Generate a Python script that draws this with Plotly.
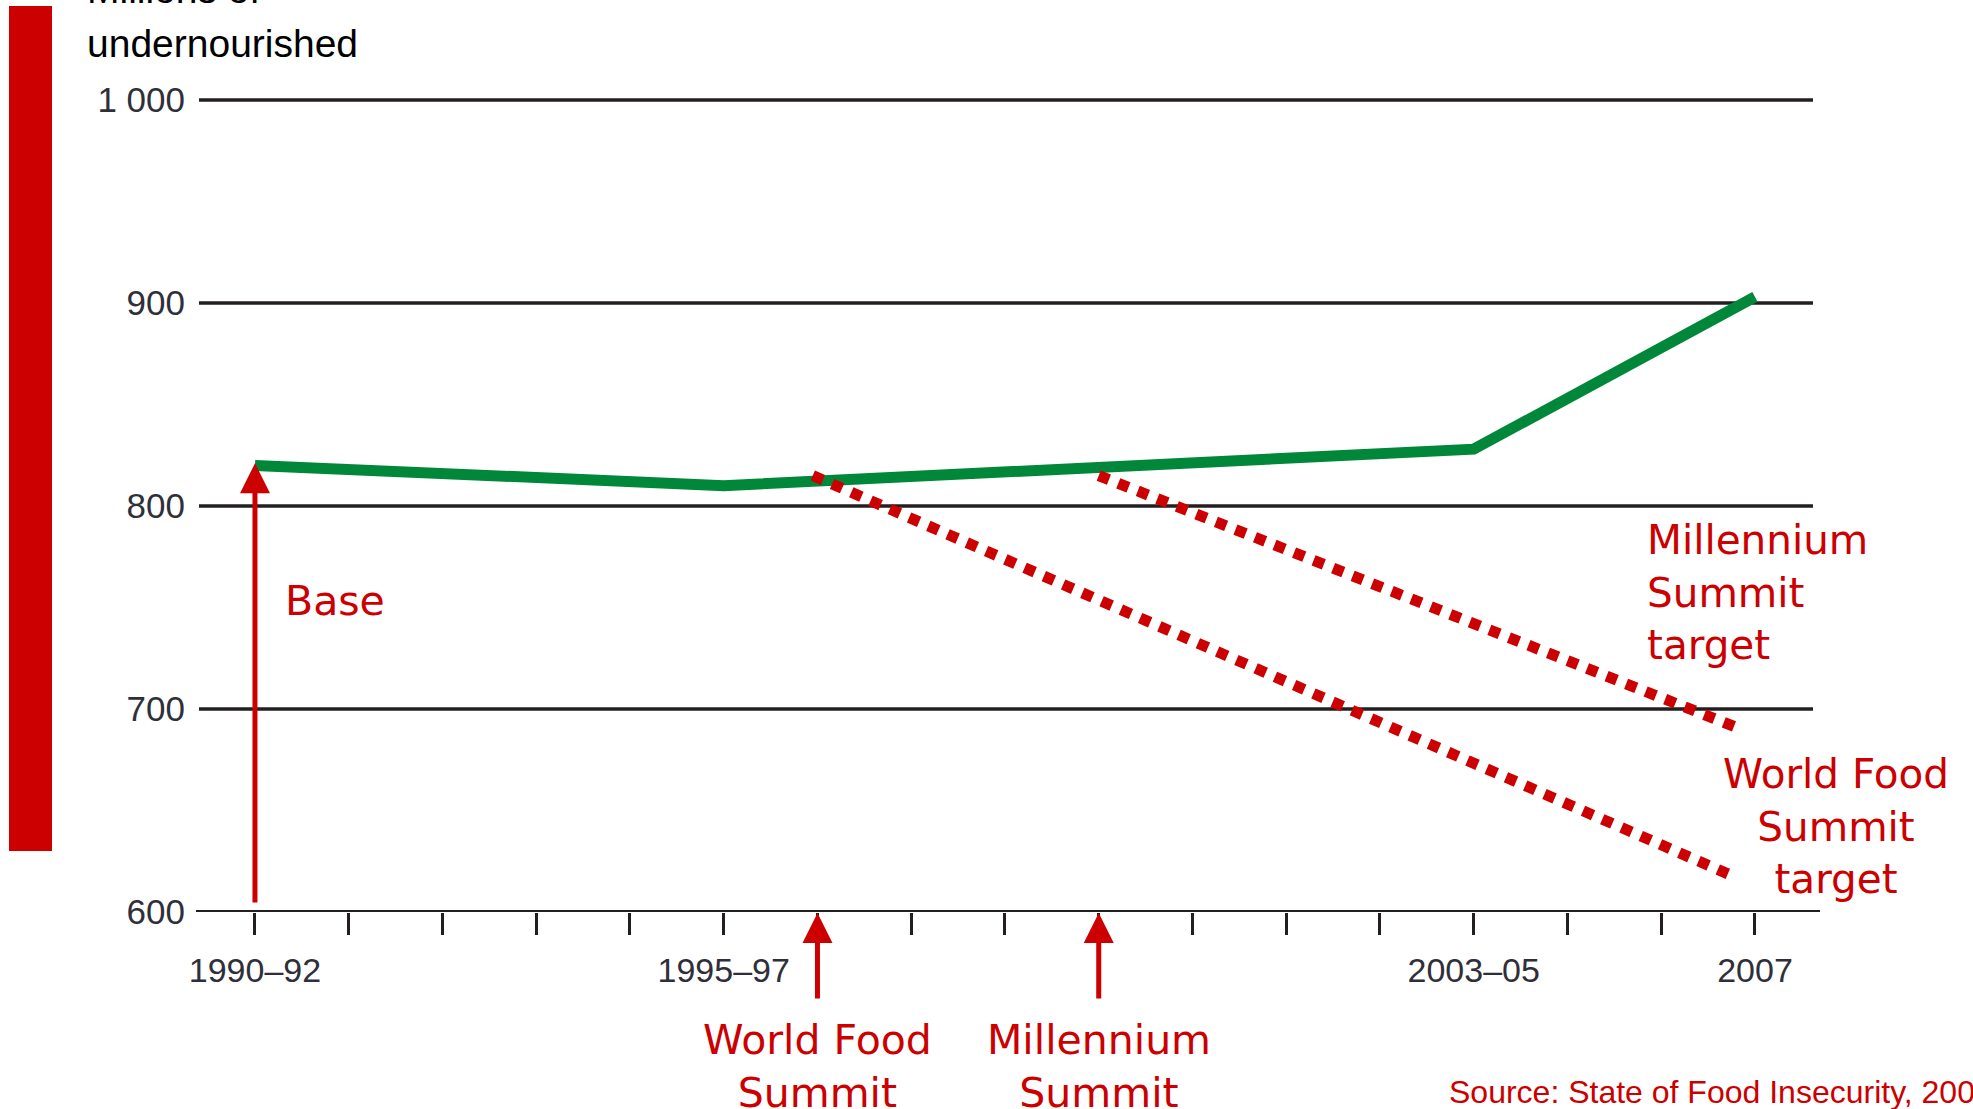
import plotly.graph_objects as go

W, H = 1973, 1109

# ---------------- data ----------------
period_x = [1991, 1996, 2004, 2007]
period_labels = ["1990–92", "1995–97", "2003–05", "2007"]
undernourished = [820, 810, 828, 903]

wfs_target_x = [1996.95, 2006.8]
wfs_target_y = [815, 617]
ms_target_x = [2000.0, 2006.8]
ms_target_y = [815, 691]

year_ticks = list(range(1991, 2008))
y_ticks = [700, 800, 900, 1000]
y_label_vals = [600, 700, 800, 900, 1000]
y_tick_labels = ["600", "700", "800", "900", "1 000"]

base_year, base_value, base_floor = 1991, 821, 604
wfs_year, ms_year = 1997, 2000

# ---------------- layout helpers ----------------
L, R, T, B = 199, 160, 90, 197
PW, PH = W - L - R, H - T - B
Y_TOP = 1000 + 10 / 2.03  # a little headroom so the top gridline is not on the edge


def px(xp):
    return (xp - L) / PW


def py(yp):
    return (H - B - yp) / PH


RED = "#cc0000"
GREEN = "#00873a"
INK = "#231f20"
TICKFONT = "Liberation Sans, Arial, sans-serif"
HUM = "DejaVu Sans, Verdana, sans-serif"
ARIAL = "Liberation Sans, Arial, sans-serif"

fig = go.Figure()

fig.add_trace(go.Scatter(x=period_x, y=undernourished, mode="lines",
                         line=dict(color=GREEN, width=11), hoverinfo="skip"))
fig.add_trace(go.Scatter(x=wfs_target_x, y=wfs_target_y, mode="lines",
                         line=dict(color=RED, width=11, dash="11px,10px"), hoverinfo="skip"))
fig.add_trace(go.Scatter(x=ms_target_x, y=ms_target_y, mode="lines",
                         line=dict(color=RED, width=11, dash="11px,10px"), hoverinfo="skip"))

tick_text = [period_labels[period_x.index(y)] if y in period_x else "" for y in year_ticks]

fig.update_layout(
    width=W, height=H,
    margin=dict(l=L, r=R, t=T, b=B, pad=0),
    paper_bgcolor="white", plot_bgcolor="white",
    showlegend=False,
    xaxis=dict(range=[1990.403, 2007.619], tickvals=year_ticks, ticktext=tick_text,
               ticks="outside", ticklen=22, tickwidth=3, tickcolor=INK,
               showgrid=False, showline=False, zeroline=False,
               tickfont=dict(family=TICKFONT, size=34, color="#2f2f3a"),
               ticklabelstandoff=6),
    yaxis=dict(range=[600, Y_TOP], tickvals=y_label_vals, ticktext=y_tick_labels,
               ticks="", showgrid=False,
               showline=False, zeroline=False,
               tickfont=dict(family=TICKFONT, size=35, color="#2f2f3a"),
               ticklabelstandoff=13),
)

shapes = [
    dict(type="rect", xref="paper", yref="paper", x0=px(9), x1=px(52), y0=py(851), y1=py(6),
         fillcolor=RED, line=dict(width=0), layer="above"),
    dict(type="line", xref="paper", yref="y", x0=px(196), x1=px(1820), y0=600, y1=600,
         line=dict(color=INK, width=4), layer="above"),
]
for v in y_ticks:
    shapes.append(dict(type="line", xref="paper", yref="y", x0=0, x1=1, y0=v, y1=v,
                       line=dict(color=INK, width=3.5), layer="below"))
fig.update_layout(shapes=shapes)

ann = []
arrow_style = dict(showarrow=True, arrowhead=2, arrowsize=1.2, arrowwidth=5,
                   arrowcolor=RED, text="")
ann.append(dict(x=base_year, y=base_value, xref="x", yref="y",
                ax=base_year, ay=base_floor, axref="x", ayref="y", **arrow_style))
for yr in (wfs_year, ms_year):
    ann.append(dict(x=yr, y=py(913), xref="x", yref="paper", ax=0, ay=87, **arrow_style))


def label(text, x, y, size, family=HUM, color=RED, xanchor="left", align="left", xref="paper"):
    return dict(text=text, x=x, y=y, xref=xref, yref="paper", showarrow=False,
                xanchor=xanchor, yanchor="middle", align=align,
                font=dict(family=family, size=size, color=color))


ann.append(label("Base", px(283), py(601), 41))
ann.append(label("World Food<br>Summit", wfs_year, py(1066), 41, xanchor="center", align="center", xref="x"))
ann.append(label("Millennium<br>Summit", ms_year, py(1066), 41, xanchor="center", align="center", xref="x"))
ann.append(label("Millennium<br>Summit<br>target", px(1645), py(592), 40.5))
ann.append(label("World Food<br>Summit<br>target", px(1836), py(826), 40.5, xanchor="center", align="center"))
ann.append(label("Millions of", px(85), py(-10), 39, family=ARIAL, color="black"))
ann.append(label("undernourished", px(85), py(44), 39, family=ARIAL, color="black"))
ann.append(label("Source: State of Food Insecurity, 2008", px(1447), py(1092), 32, family=ARIAL))

fig.update_layout(annotations=ann)

fig.write_html("out.html")
